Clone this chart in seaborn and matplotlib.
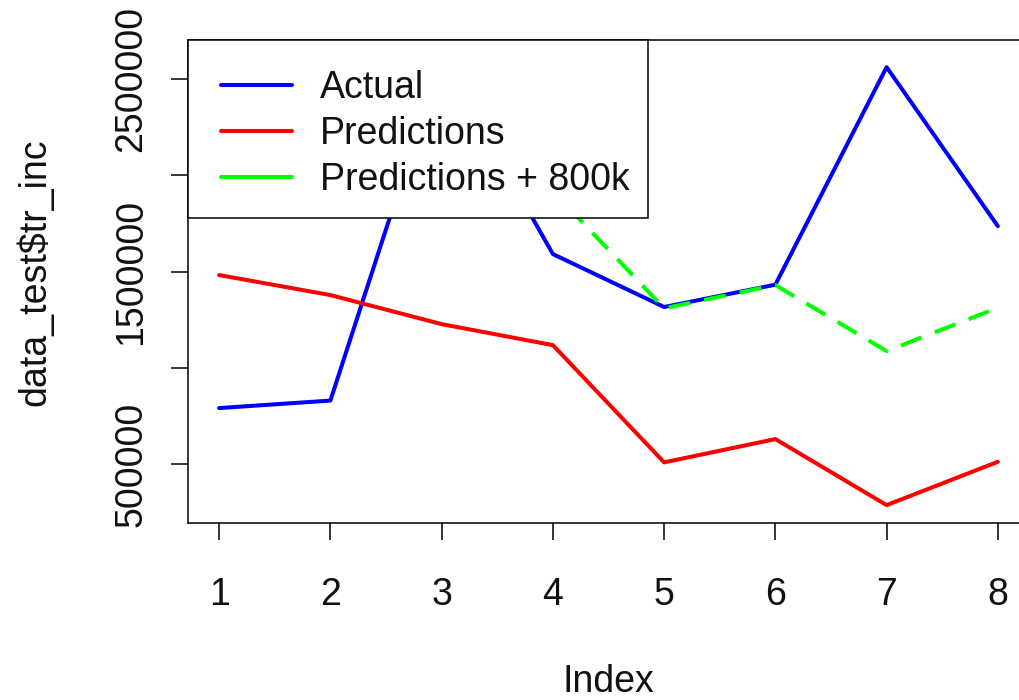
"""
plot.py
----------------------------------
Actual vs predicted tr_inc on the test set, drawn in the style of an
R base-graphics line plot.
"""

import numpy as np
import matplotlib
matplotlib.use("Agg")
import matplotlib.pyplot as plt
from matplotlib.patches import Rectangle
from matplotlib.ticker import FixedLocator, FixedFormatter
import seaborn as sns

# --------------------------------------------------------------------------
# Data
# --------------------------------------------------------------------------
INDEX = [1, 2, 3, 4, 5, 6, 7, 8]
ACTUAL = [791000, 830000, 2610000, 1591000, 1316000, 1432000, 2562000, 1736000]
PREDICTIONS = [1482000, 1378000, 1227000, 1118000, 509000, 630000, 287000, 512000]
PREDICTIONS_800K = [2282000, 2178000, 2027000, 1918000, 1309000, 1430000, 1087000, 1312000]

Y_TICKS = [500000, 1000000, 1500000, 2000000, 2500000]
Y_TICK_LABELS = ["500000", "", "1500000", "", "2500000"]

LEGEND_LABELS = ["Actual", "Predictions", "Predictions + 800k"]
COLORS = ["#0000FF", "#FF0000", "#00FF00"]

sns.set_style("ticks")
plt.rcParams["font.family"] = ["Liberation Sans", "DejaVu Sans"]

FS = 27
LW = 2.9

fig = plt.figure(figsize=(10.2, 7), dpi=100)
# axes box deliberately runs past the right edge, like the cropped original
ax = fig.add_axes([188 / 1020, 1 - 523 / 700, 841 / 1020, 483 / 700])

sns.lineplot(x=INDEX, y=ACTUAL, color=COLORS[0], linewidth=LW, ax=ax,
             label=LEGEND_LABELS[0])
sns.lineplot(x=INDEX, y=PREDICTIONS, color=COLORS[1], linewidth=LW, ax=ax,
             label=LEGEND_LABELS[1])
sns.lineplot(x=INDEX, y=PREDICTIONS_800K, color=COLORS[2], linewidth=LW, ax=ax,
             label=LEGEND_LABELS[2])
ax.lines[2].set_dashes((5.5, 3.5))

# R-style 4% padding on both axes
all_y = np.concatenate([ACTUAL, PREDICTIONS, PREDICTIONS_800K])
y_pad = 0.04 * (all_y.max() - all_y.min())
x_pad = 0.04 * (max(INDEX) - min(INDEX))
ax.set_xlim(min(INDEX) - x_pad, max(INDEX) + x_pad)
ax.set_ylim(all_y.min() - y_pad, all_y.max() + y_pad)

ax.set_xticks(INDEX)
ax.set_xticklabels([str(i) for i in INDEX])
ax.yaxis.set_major_locator(FixedLocator(Y_TICKS))
ax.yaxis.set_major_formatter(FixedFormatter(Y_TICK_LABELS))

ax.tick_params(axis="both", length=12, width=1.1, color="black",
               labelsize=FS, labelcolor="#111111")
ax.tick_params(axis="x", pad=27)
ax.tick_params(axis="y", pad=16)
for lab in ax.get_yticklabels():
    lab.set_rotation(90)
    lab.set_va("center")
    lab.set_ha("right")

for side in ["left", "bottom", "top", "right"]:
    ax.spines[side].set_visible(True)
    ax.spines[side].set_color("black")
    ax.spines[side].set_linewidth(1.1)

ax.set_xlabel("Index", fontsize=FS, color="#111111")
ax.set_ylabel(r"data_test\$tr_inc", fontsize=FS, color="#111111")
ax.xaxis.set_label_coords(0.5, (523 - 692) / 483)
ax.xaxis.label.set_va("baseline")
ax.yaxis.set_label_coords(-0.182, 0.52)
ax.yaxis.label.set_va("center")

# legend box: R draws it with uneven padding, so the frame is a separate patch
frame = Rectangle((0, (523 - 218) / 483), 460 / 841, 1 - (523 - 218) / 483,
                  transform=ax.transAxes, facecolor="white", edgecolor="black",
                  linewidth=1.1, zorder=4, clip_on=False)
ax.add_patch(frame)

leg = ax.legend(loc="upper left", bbox_to_anchor=(13 / 841, (523 - 50) / 483),
                borderaxespad=0, fontsize=FS, frameon=False,
                handlelength=1.9, handletextpad=0.74, borderpad=0.53,
                labelspacing=0.27)
leg.set_zorder(5)
for line in leg.get_lines():
    line.set_linewidth(LW)
    line.set_linestyle("-")
for txt in leg.get_texts():
    txt.set_color("#111111")

fig.savefig("out.png", dpi=100)
